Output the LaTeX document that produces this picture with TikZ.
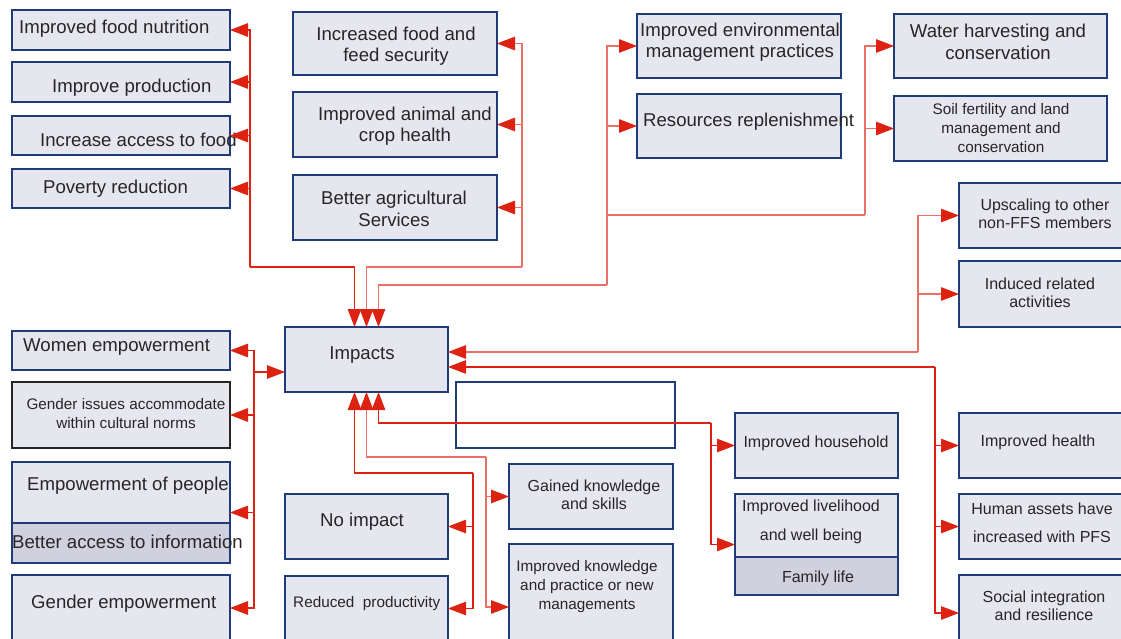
\documentclass[tikz,border=0pt]{standalone}
\usepackage{fontspec}
\setmainfont{Liberation Sans}
\usetikzlibrary{arrows.meta}

\definecolor{boxfill}{HTML}{E6E6EE}
\definecolor{boxdark}{HTML}{D0D0DF}
\definecolor{boxline}{HTML}{1F3B7A}
\definecolor{linkred}{HTML}{DD2211}
\definecolor{linkpink}{HTML}{EA6F66}
\definecolor{txt}{HTML}{262626}

% box from its top-left corner (x1,y1) to its bottom-right corner (x2,y2)
\newcommand\mkbox[6]{\node[#1,anchor=north west,minimum width={#5-#3},minimum height={#6-#4}] (#2) at (#3,#4) {};}

\tikzset{
  box/.style={draw=boxline, fill=boxfill, line width=1.3pt, inner sep=0pt, outer sep=0pt},
  darkbox/.style={box, fill=boxdark},
  plainbox/.style={box, fill=white},
  blackbox/.style={box, draw=black!85},
  big/.style={font=\fontsize{18.6}{21.5}\selectfont, text=txt, inner sep=0pt, align=center},
  mid/.style={font=\fontsize{16}{18.5}\selectfont, text=txt, inner sep=0pt, align=center},
  small/.style={font=\fontsize{15.3}{19}\selectfont, text=txt, inner sep=0pt, align=center},
  wide/.style={font=\fontsize{16}{28.5}\selectfont, text=txt, inner sep=0pt, align=center},
  link/.style={draw=linkred, line width=1.2pt, -{Triangle[length=18pt,width=13.5pt,color=linkred]}},
  linkp/.style={link, draw=linkpink},
  trunk/.style={draw=linkpink, line width=1.2pt},
}

\begin{document}
\begin{tikzpicture}[x=1pt,y=-1pt]
\useasboundingbox (0,0) rectangle (1121,639);
\clip (0,0) rectangle (1121,639);
\fill[white] (0,0) rectangle (1121,639);

% ---- boxes ----
\mkbox{box}{fnB}{12}{10}{230}{50}
\mkbox{box}{ipB}{12}{62}{230}{102}
\mkbox{box}{iafB}{12}{116}{230}{155}
\mkbox{box}{povB}{12}{169}{230}{208}
\mkbox{box}{ifsB}{293}{12}{497}{75}
\mkbox{box}{iacB}{293}{92}{497}{157}
\mkbox{box}{basB}{293}{175}{497}{240}
\mkbox{box}{envB}{637}{14}{841}{78}
\mkbox{box}{resB}{637}{94}{841}{158}
\mkbox{box}{watB}{894}{14}{1107}{78}
\mkbox{box}{soilB}{894}{96}{1107}{161}
\mkbox{box}{upsB}{959}{183}{1126}{248}
\mkbox{box}{indB}{959}{261}{1126}{327}
\mkbox{box}{impB}{285}{327}{448}{392}
\mkbox{box}{womB}{12}{331}{230}{370}
\mkbox{blackbox}{giB}{12}{382}{230}{448}
\mkbox{box}{empB}{12}{462}{230}{563}
\mkbox{darkbox}{baiB}{12}{523}{230}{563}
\mkbox{box}{genB}{12}{575}{230}{641}
\mkbox{box}{noiB}{285}{494}{448}{559}
\mkbox{box}{redB}{285}{576}{448}{641}
\mkbox{box}{gkB}{509}{464}{673}{529}
\mkbox{box}{ikpB}{509}{544}{673}{670}
\mkbox{plainbox}{blankB}{456}{382}{675}{448}
\mkbox{box}{hhB}{735}{413}{898}{478}
\mkbox{box}{livB}{735}{494}{898}{595}
\mkbox{darkbox}{famB}{735}{557}{898}{595}
\mkbox{box}{hlthB}{959}{413}{1126}{478}
\mkbox{box}{humB}{959}{494}{1126}{559}
\mkbox{box}{socB}{959}{575}{1126}{651}

% ---- texts ----
\node[big,anchor=west] (fnT) at (19,29) {Improved food nutrition};
\node[big,anchor=west] (ipT) at (52,88) {Improve production};
\node[big,anchor=west] (iafT) at (40,140) {Increase access to food};
\node[big,anchor=west] (povT) at (43,189) {Poverty reduction};
\node[big] (ifsT) at (396,46) {Increased food and\\feed security};
\node[big] (iacT) at (405,126) {Improved animal and\\crop health};
\node[big] (basT) at (394,209) {Better agricultural\\Services};
\node[big] (envT) at (740,42) {Improved environmental\\management practices};
\node[big,anchor=west] (resT) at (643,122) {Resources replenishment};
\node[big] (watT) at (998,42) {Water harvesting and\\conservation};
\node[small] (soilT) at (1001,128) {Soil fertility and land\\management and\\conservation};
\node[mid] (upsT) at (1045,214) {Upscaling to other\\non-FFS members};
\node[mid] (indT) at (1040,293) {Induced related\\activities};
\node[big] (impT) at (362,355) {Impacts};
\node[big,anchor=west] (womT) at (23,347) {Women empowerment};
\node[small] (giT) at (126,414) {Gender issues accommodate\\within cultural norms};
\node[big,anchor=west] (empT) at (27,486) {Empowerment of people};
\node[big,anchor=west] (baiT) at (12,542) {Better access to information};
\node[big,anchor=west] (genT) at (31,604) {Gender empowerment};
\node[big,anchor=west] (noiT) at (320,522) {No impact};
\node[small,anchor=west] (redT) at (293,604) {Reduced\ \ productivity};
\node[mid] (gkT) at (594,495) {Gained knowledge\\and skills};
\node[small] (ikpT) at (587,587) {Improved knowledge\\and practice or new\\managements};
\node[mid] (hhT) at (816,443) {Improved household};
\node[wide] (livT) at (811,522) {Improved livelihood\\and well being};
\node[mid] (famT) at (818,578) {Family life};
\node[mid] (hlthT) at (1038,442) {Improved health};
\node[wide] (humT) at (1042,523) {Human assets have\\increased with PFS};
\node[mid] (socT) at (1044,606) {Social integration\\and resilience};

% ---- junction points of the connector trunks ----
\coordinate (j1) at (250,267);
\coordinate (j2) at (522,267);
\coordinate (j3) at (607,285);
\coordinate (j4) at (865,215);
\coordinate (j5) at (918,352);
\coordinate (j6) at (935,367);
\coordinate (j7) at (254,372);
\coordinate (j8) at (473,473);
\coordinate (j9) at (486,457);
\coordinate (j10) at (711,423);

% top-left group
\draw[link] (j1) -| ([xshift=-12pt]impB.north);
\foreach \b in {fnB,ipB,iafB,povB} \draw[link] (j1) |- (\b.east);
% top-middle group
\draw[linkp] (j2) -| (impB.north);
\foreach \b in {ifsB,iacB,basB} \draw[linkp] (j2) |- (\b.east);
% environment group
\draw[linkp] (j3) -| ([xshift=12pt]impB.north);
\foreach \b in {envB,resB} \draw[linkp] (j3) |- (\b.west);
\draw[trunk] (j3) |- (j4);
\foreach \b in {watB,soilB} \draw[linkp] (j4) |- (\b.west);
% upscaling group
\draw[linkp] (j5) -- ([yshift=7.5pt]impB.east);
\foreach \b in {upsB,indB} \draw[linkp] (j5) |- (\b.west);
% health group
\draw[link] (j6) -- ([yshift=-7.5pt]impB.east);
\foreach \b in {hlthB,humB,socB} \draw[link] (j6) |- (\b.west);
% gender group
\draw[link] (j7) -- ([yshift=-12.5pt]impB.west);
\foreach \b in {womB,giB,empB,genB} \draw[link] (j7) |- (\b.east);
% no-impact group
\draw[link] (j8) -| ([xshift=-12pt]impB.south);
\foreach \b in {noiB,redB} \draw[link] (j8) |- (\b.east);
% knowledge group
\draw[linkp] (j9) -| (impB.south);
\foreach \b in {gkB,ikpB} \draw[linkp] (j9) |- (\b.west);
% household group
\draw[link] (j10) -| ([xshift=12pt]impB.south);
\foreach \b in {hhB,livB} \draw[link] (j10) |- (\b.west);
\end{tikzpicture}
\end{document}
